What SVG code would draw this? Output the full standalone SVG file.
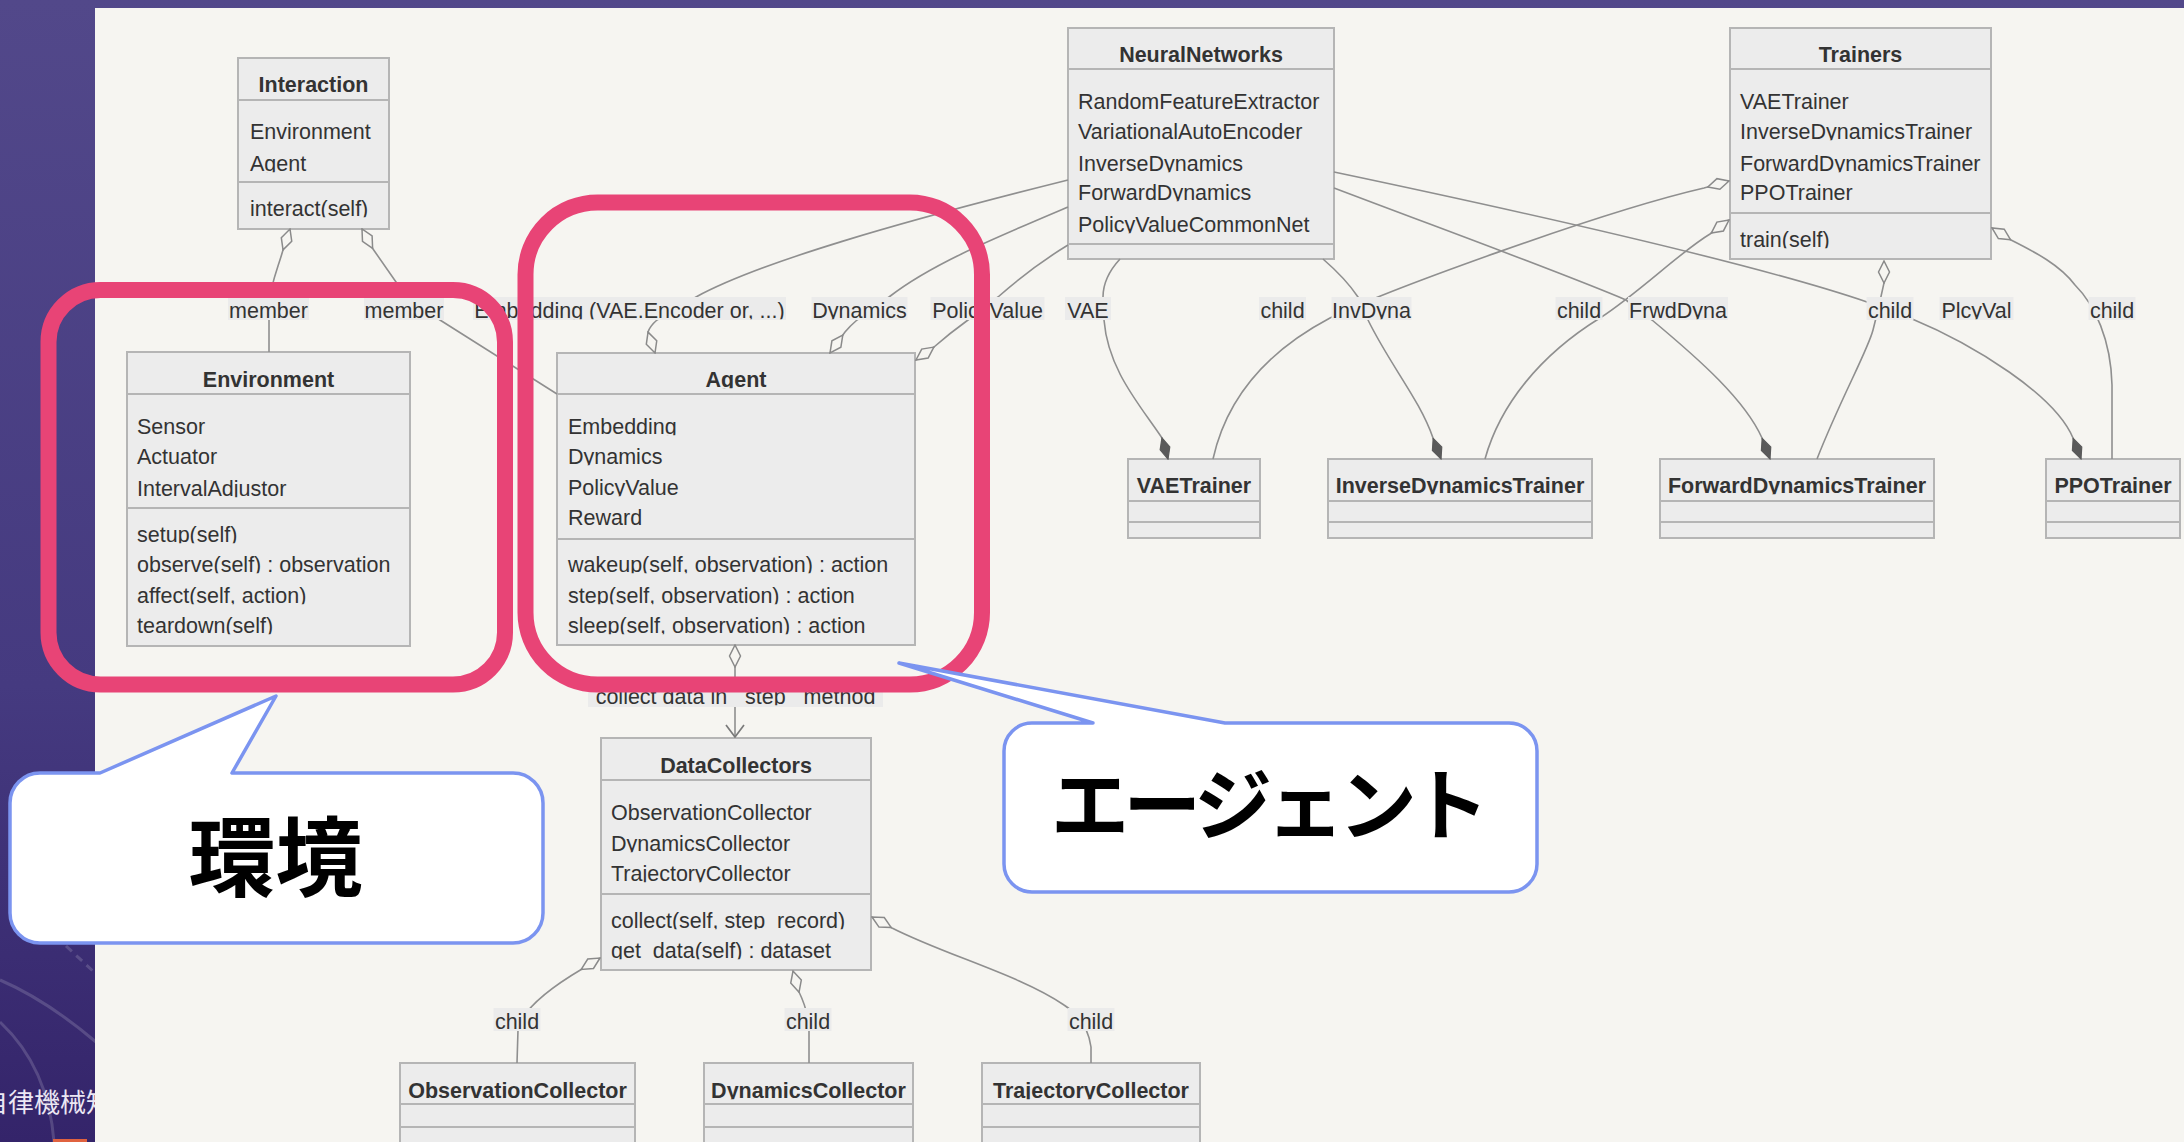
<svg xmlns="http://www.w3.org/2000/svg" width="2184" height="1142" viewBox="0 0 2184 1142">
  <defs>
    <style>
      .box{fill:#ececec;stroke:#b5b5b5;stroke-width:2}
      .sep{stroke:#b5b5b5;stroke-width:2}
      .t{font-family:"Liberation Sans",Arial,sans-serif;font-size:21.5px;fill:#333;clip-path:url(#cut)}
      .ttl{font-weight:bold;text-anchor:middle}
      .mid{text-anchor:middle}
      .edge{fill:none;stroke:#8f8f8f;stroke-width:1.6}
      .agg{marker-end:url(#dia)}
      .cmp{marker-end:url(#fdia)}
      .lbl{fill:#ebebeb}
      .hl{fill:none;stroke:#e84476;stroke-width:16}
      .bub{fill:#ffffff;stroke:#7b94f0;stroke-width:3.5;stroke-linejoin:round}
      .big{font-family:"Noto Sans CJK JP","Noto Sans CJK SC",sans-serif;font-weight:bold;fill:#000;text-anchor:middle}
    </style>
    <!-- cut descenders of each text line just under the baseline -->
    <clipPath id="cut" clipPathUnits="objectBoundingBox">
      <rect x="-0.05" y="-0.1" width="1.1" height="0.945"/>
    </clipPath>
    <marker id="dia" viewBox="0 0 24 14" refX="23" refY="7" markerWidth="24" markerHeight="14" markerUnits="userSpaceOnUse" orient="auto-start-reverse">
      <path d="M1,7 L12,1.5 L23,7 L12,12.5 Z" fill="#f6f5f1" stroke="#8a8a8a" stroke-width="1.5"/>
    </marker>
    <marker id="fdia" viewBox="0 0 24 14" refX="23" refY="7" markerWidth="24" markerHeight="14" markerUnits="userSpaceOnUse" orient="auto">
      <path d="M1,7 L12,2 L23,7 L12,12 Z" fill="#5a5a5a" stroke="#5a5a5a" stroke-width="1.2"/>
    </marker>
    <marker id="arr" viewBox="0 0 14 20" refX="13" refY="10" markerWidth="14" markerHeight="20" markerUnits="userSpaceOnUse" orient="auto">
      <path d="M1,1 L13,10 L1,19" fill="none" stroke="#7a7a7a" stroke-width="1.7"/>
    </marker>
    <linearGradient id="slide" x1="0" y1="0" x2="0" y2="1">
      <stop offset="0" stop-color="#52488a"/>
      <stop offset="0.6" stop-color="#453a80"/>
      <stop offset="1" stop-color="#34246a"/>
    </linearGradient>
  </defs>

  <!-- slide background and canvas -->
  <rect x="0" y="0" width="2184" height="1142" fill="url(#slide)"/>
  <g fill="none" stroke="#ffffff" stroke-opacity="0.16" stroke-width="3">
    <path d="M0,980 C35,995 70,1020 96,1042"/>
    <path d="M0,1022 C30,1050 50,1090 54,1142"/>
    <path d="M66,946 L94,972" stroke-dasharray="8 6"/>
  </g>
  <text x="-18" y="1112" font-family="Noto Sans CJK JP,sans-serif" font-size="26" fill="#ebe7f3">自律機械知</text>
  <rect x="53" y="1139" width="34" height="3" fill="#e0623f"/>
  <rect x="95" y="8" width="2089" height="1134" fill="#f6f5f1"/>

  <!-- class nodes -->
  <g id="interaction">
    <rect class="box" x="238" y="58" width="151" height="171"/>
    <line class="sep" x1="238" y1="100" x2="389" y2="100"/>
    <line class="sep" x1="238" y1="182" x2="389" y2="182"/>
    <text class="t ttl" x="313.5" y="92">Interaction</text>
    <text class="t" x="250" y="139">Environment</text>
    <text class="t" x="250" y="171">Agent</text>
    <text class="t" x="250" y="216">interact(self)</text>
  </g>

  <g id="environment">
    <rect class="box" x="127" y="352" width="283" height="294"/>
    <line class="sep" x1="127" y1="394" x2="410" y2="394"/>
    <line class="sep" x1="127" y1="508" x2="410" y2="508"/>
    <text class="t ttl" x="268.5" y="387">Environment</text>
    <text class="t" x="137" y="434">Sensor</text>
    <text class="t" x="137" y="464">Actuator</text>
    <text class="t" x="137" y="496">IntervalAdjustor</text>
    <text class="t" x="137" y="542">setup(self)</text>
    <text class="t" x="137" y="572">observe(self) : observation</text>
    <text class="t" x="137" y="603">affect(self, action)</text>
    <text class="t" x="137" y="633">teardown(self)</text>
  </g>

  <g id="agent">
    <rect class="box" x="557" y="353" width="358" height="292"/>
    <line class="sep" x1="557" y1="394" x2="915" y2="394"/>
    <line class="sep" x1="557" y1="539" x2="915" y2="539"/>
    <text class="t ttl" x="736" y="387">Agent</text>
    <text class="t" x="568" y="434">Embedding</text>
    <text class="t" x="568" y="464">Dynamics</text>
    <text class="t" x="568" y="495">PolicyValue</text>
    <text class="t" x="568" y="525">Reward</text>
    <text class="t" x="568" y="572">wakeup(self, observation) : action</text>
    <text class="t" x="568" y="603">step(self, observation) : action</text>
    <text class="t" x="568" y="633">sleep(self, observation) : action</text>
  </g>

  <g id="neuralnetworks">
    <rect class="box" x="1068" y="28" width="266" height="231"/>
    <line class="sep" x1="1068" y1="69" x2="1334" y2="69"/>
    <line class="sep" x1="1068" y1="244" x2="1334" y2="244"/>
    <text class="t ttl" x="1201" y="62">NeuralNetworks</text>
    <text class="t" x="1078" y="109">RandomFeatureExtractor</text>
    <text class="t" x="1078" y="139">VariationalAutoEncoder</text>
    <text class="t" x="1078" y="171">InverseDynamics</text>
    <text class="t" x="1078" y="200">ForwardDynamics</text>
    <text class="t" x="1078" y="232">PolicyValueCommonNet</text>
  </g>

  <g id="trainers">
    <rect class="box" x="1730" y="28" width="261" height="231"/>
    <line class="sep" x1="1730" y1="69" x2="1991" y2="69"/>
    <line class="sep" x1="1730" y1="213" x2="1991" y2="213"/>
    <text class="t ttl" x="1860.5" y="62">Trainers</text>
    <text class="t" x="1740" y="109">VAETrainer</text>
    <text class="t" x="1740" y="139">InverseDynamicsTrainer</text>
    <text class="t" x="1740" y="171">ForwardDynamicsTrainer</text>
    <text class="t" x="1740" y="200">PPOTrainer</text>
    <text class="t" x="1740" y="247">train(self)</text>
  </g>

  <g id="vaetrainer">
    <rect class="box" x="1128" y="459" width="132" height="79"/>
    <line class="sep" x1="1128" y1="501" x2="1260" y2="501"/>
    <line class="sep" x1="1128" y1="522" x2="1260" y2="522"/>
    <text class="t ttl" x="1194" y="493">VAETrainer</text>
  </g>

  <g id="inversedynamicstrainer">
    <rect class="box" x="1328" y="459" width="264" height="79"/>
    <line class="sep" x1="1328" y1="501" x2="1592" y2="501"/>
    <line class="sep" x1="1328" y1="522" x2="1592" y2="522"/>
    <text class="t ttl" x="1460" y="493">InverseDynamicsTrainer</text>
  </g>

  <g id="forwarddynamicstrainer">
    <rect class="box" x="1660" y="459" width="274" height="79"/>
    <line class="sep" x1="1660" y1="501" x2="1934" y2="501"/>
    <line class="sep" x1="1660" y1="522" x2="1934" y2="522"/>
    <text class="t ttl" x="1797" y="493">ForwardDynamicsTrainer</text>
  </g>

  <g id="ppotrainer">
    <rect class="box" x="2046" y="459" width="134" height="79"/>
    <line class="sep" x1="2046" y1="501" x2="2180" y2="501"/>
    <line class="sep" x1="2046" y1="522" x2="2180" y2="522"/>
    <text class="t ttl" x="2113" y="493">PPOTrainer</text>
  </g>

  <g id="datacollectors">
    <rect class="box" x="601" y="738" width="270" height="232"/>
    <line class="sep" x1="601" y1="780" x2="871" y2="780"/>
    <line class="sep" x1="601" y1="894" x2="871" y2="894"/>
    <text class="t ttl" x="736" y="773">DataCollectors</text>
    <text class="t" x="611" y="820">ObservationCollector</text>
    <text class="t" x="611" y="851">DynamicsCollector</text>
    <text class="t" x="611" y="881">TrajectoryCollector</text>
    <text class="t" x="611" y="928">collect(self, step_record)</text>
    <text class="t" x="611" y="958">get_data(self) : dataset</text>
  </g>

  <g id="observationcollector">
    <rect class="box" x="400" y="1063" width="235" height="80"/>
    <line class="sep" x1="400" y1="1104" x2="635" y2="1104"/>
    <line class="sep" x1="400" y1="1127" x2="635" y2="1127"/>
    <text class="t ttl" x="517.5" y="1098">ObservationCollector</text>
  </g>

  <g id="dynamicscollector">
    <rect class="box" x="704" y="1063" width="209" height="80"/>
    <line class="sep" x1="704" y1="1104" x2="913" y2="1104"/>
    <line class="sep" x1="704" y1="1127" x2="913" y2="1127"/>
    <text class="t ttl" x="808.5" y="1098">DynamicsCollector</text>
  </g>

  <g id="trajectorycollector">
    <rect class="box" x="982" y="1063" width="218" height="80"/>
    <line class="sep" x1="982" y1="1104" x2="1200" y2="1104"/>
    <line class="sep" x1="982" y1="1127" x2="1200" y2="1127"/>
    <text class="t ttl" x="1091" y="1098">TrajectoryCollector</text>
  </g>

  <!-- relations -->
  <g id="connectors">
    <!-- Interaction members -->
    <path class="edge agg" d="M269,352 L269,305 C270,285 278,268 283,250 L290,229"/>
    <path class="edge agg" d="M557,394 L440,320 C418,304 404,293 396,282 L373,249 L362,229"/>
    <!-- NeuralNetworks used by Agent -->
    <path class="edge agg" d="M1068,180 C900,222 760,262 696,297 L657,320 Q650,326 648,332 L655,353"/>
    <path class="edge agg" d="M1068,207 C990,240 930,265 889,297 L857,320 Q850,326 845,332 L830,353"/>
    <path class="edge agg" d="M1068,245 C1040,262 1015,282 998,297 L968,320 Q950,333 934,347 L916,360"/>
    <!-- NeuralNetworks composed into trainers -->
    <path class="edge cmp" d="M1120,259 C1108,272 1103,285 1103,297 L1104,320 C1108,370 1140,405 1162,438 L1168,459"/>
    <path class="edge cmp" d="M1323,259 C1338,272 1350,285 1358,297 L1368,320 C1390,365 1420,400 1433,438 L1441,459"/>
    <path class="edge cmp" d="M1334,188 C1450,232 1560,272 1626,300 L1652,320 C1700,360 1745,400 1762,438 L1770,459"/>
    <path class="edge cmp" d="M1334,172 C1500,207 1750,262 1867,302 L1910,318 C1975,345 2055,395 2073,438 L2081,459"/>
    <!-- Trainers children -->
    <path class="edge agg" d="M1213,459 C1225,405 1260,355 1330,318 C1380,293 1600,212 1704,188 L1729,181"/>
    <path class="edge agg" d="M1485,459 C1500,405 1540,355 1600,318 C1640,292 1680,252 1710,234 L1729,220"/>
    <path class="edge agg" d="M1817,459 C1840,400 1868,350 1873,330 L1878,310 L1884,283 L1884,261"/>
    <path class="edge agg" d="M2112,459 L2112,385 C2111,340 2095,305 2075,285 C2060,265 2035,252 2011,240 L1992,228"/>
    <!-- Agent feeds DataCollectors -->
    <path class="edge" d="M735,645 L735,737" marker-start="url(#dia)" marker-end="url(#arr)"/>
    <!-- DataCollectors children -->
    <path class="edge agg" d="M517,1063 L518,1030 C522,1008 555,985 582,969 L600,958"/>
    <path class="edge agg" d="M809,1063 L809,1030 C808,1012 803,1000 799,992 L793,971"/>
    <path class="edge agg" d="M1091,1063 L1091,1047 C1088,1025 1075,1012 1064,1005 C1020,975 945,955 892,928 L872,917"/>

    <!-- edge labels -->
    <g>
      <rect class="lbl" x="228" y="297" width="81" height="23"/>
      <text class="t mid" x="268.5" y="318">member</text>
      <rect class="lbl" x="364" y="297" width="80" height="23"/>
      <text class="t mid" x="404" y="318">member</text>
      <rect class="lbl" x="473" y="297" width="313" height="23"/>
      <text class="t mid" x="629.5" y="318">Embedding (VAE.Encoder or, ...)</text>
      <rect class="lbl" x="811.5" y="297" width="96" height="23"/>
      <text class="t mid" x="859.5" y="318">Dynamics</text>
      <rect class="lbl" x="930.5" y="297" width="114" height="23"/>
      <text class="t mid" x="987.5" y="318">PolicyValue</text>
      <rect class="lbl" x="1065" y="297" width="46" height="23"/>
      <text class="t mid" x="1088" y="318">VAE</text>
      <rect class="lbl" x="1259" y="297" width="47" height="23"/>
      <text class="t mid" x="1282.5" y="318">child</text>
      <rect class="lbl" x="1331.5" y="297" width="80" height="23"/>
      <text class="t mid" x="1371.5" y="318">InvDyna</text>
      <rect class="lbl" x="1555.5" y="297" width="47" height="23"/>
      <text class="t mid" x="1579" y="318">child</text>
      <rect class="lbl" x="1628" y="297" width="100" height="23"/>
      <text class="t mid" x="1678" y="318">FrwdDyna</text>
      <rect class="lbl" x="1866.5" y="297" width="47" height="23"/>
      <text class="t mid" x="1890" y="318">child</text>
      <rect class="lbl" x="1939.5" y="297" width="74" height="23"/>
      <text class="t mid" x="1976.5" y="318">PlcyVal</text>
      <rect class="lbl" x="2088.5" y="297" width="47" height="23"/>
      <text class="t mid" x="2112" y="318">child</text>
      <rect class="lbl" x="588" y="685" width="295" height="22"/>
      <text class="t mid" x="735.5" y="704">collect data in _step_ method</text>
      <rect class="lbl" x="493.5" y="1008" width="47" height="23"/>
      <text class="t mid" x="517" y="1029">child</text>
      <rect class="lbl" x="784.5" y="1008" width="47" height="23"/>
      <text class="t mid" x="808" y="1029">child</text>
      <rect class="lbl" x="1067.5" y="1008" width="47" height="23"/>
      <text class="t mid" x="1091" y="1029">child</text>
    </g>
  </g>

  <!-- highlight frames -->
  <rect class="hl" x="48.5" y="290" width="456.5" height="394.5" rx="52"/>
  <rect class="hl" x="525.5" y="202.5" width="456.5" height="482" rx="72"/>

  <!-- callouts -->
  <g id="callout-env">
    <path class="bub" d="M40,773 L100,773 L276,696 L232,773 L513,773 A30,30 0 0 1 543,803 L543,913 A30,30 0 0 1 513,943 L40,943 A30,30 0 0 1 10,913 L10,803 A30,30 0 0 1 40,773 Z"/>
    <text class="big" x="275.5" y="890" font-size="87">環境</text>
  </g>
  <g id="callout-agent">
    <path class="bub" d="M1032,723 L1093,723 L899,663 L1225,723 L1509,723 A28,28 0 0 1 1537,751 L1537,864 A28,28 0 0 1 1509,892 L1032,892 A28,28 0 0 1 1004,864 L1004,751 A28,28 0 0 1 1032,723 Z"/>
    <text class="big" x="1270" y="834" font-size="78" textLength="438" lengthAdjust="spacing">エージェント</text>
  </g>
</svg>
